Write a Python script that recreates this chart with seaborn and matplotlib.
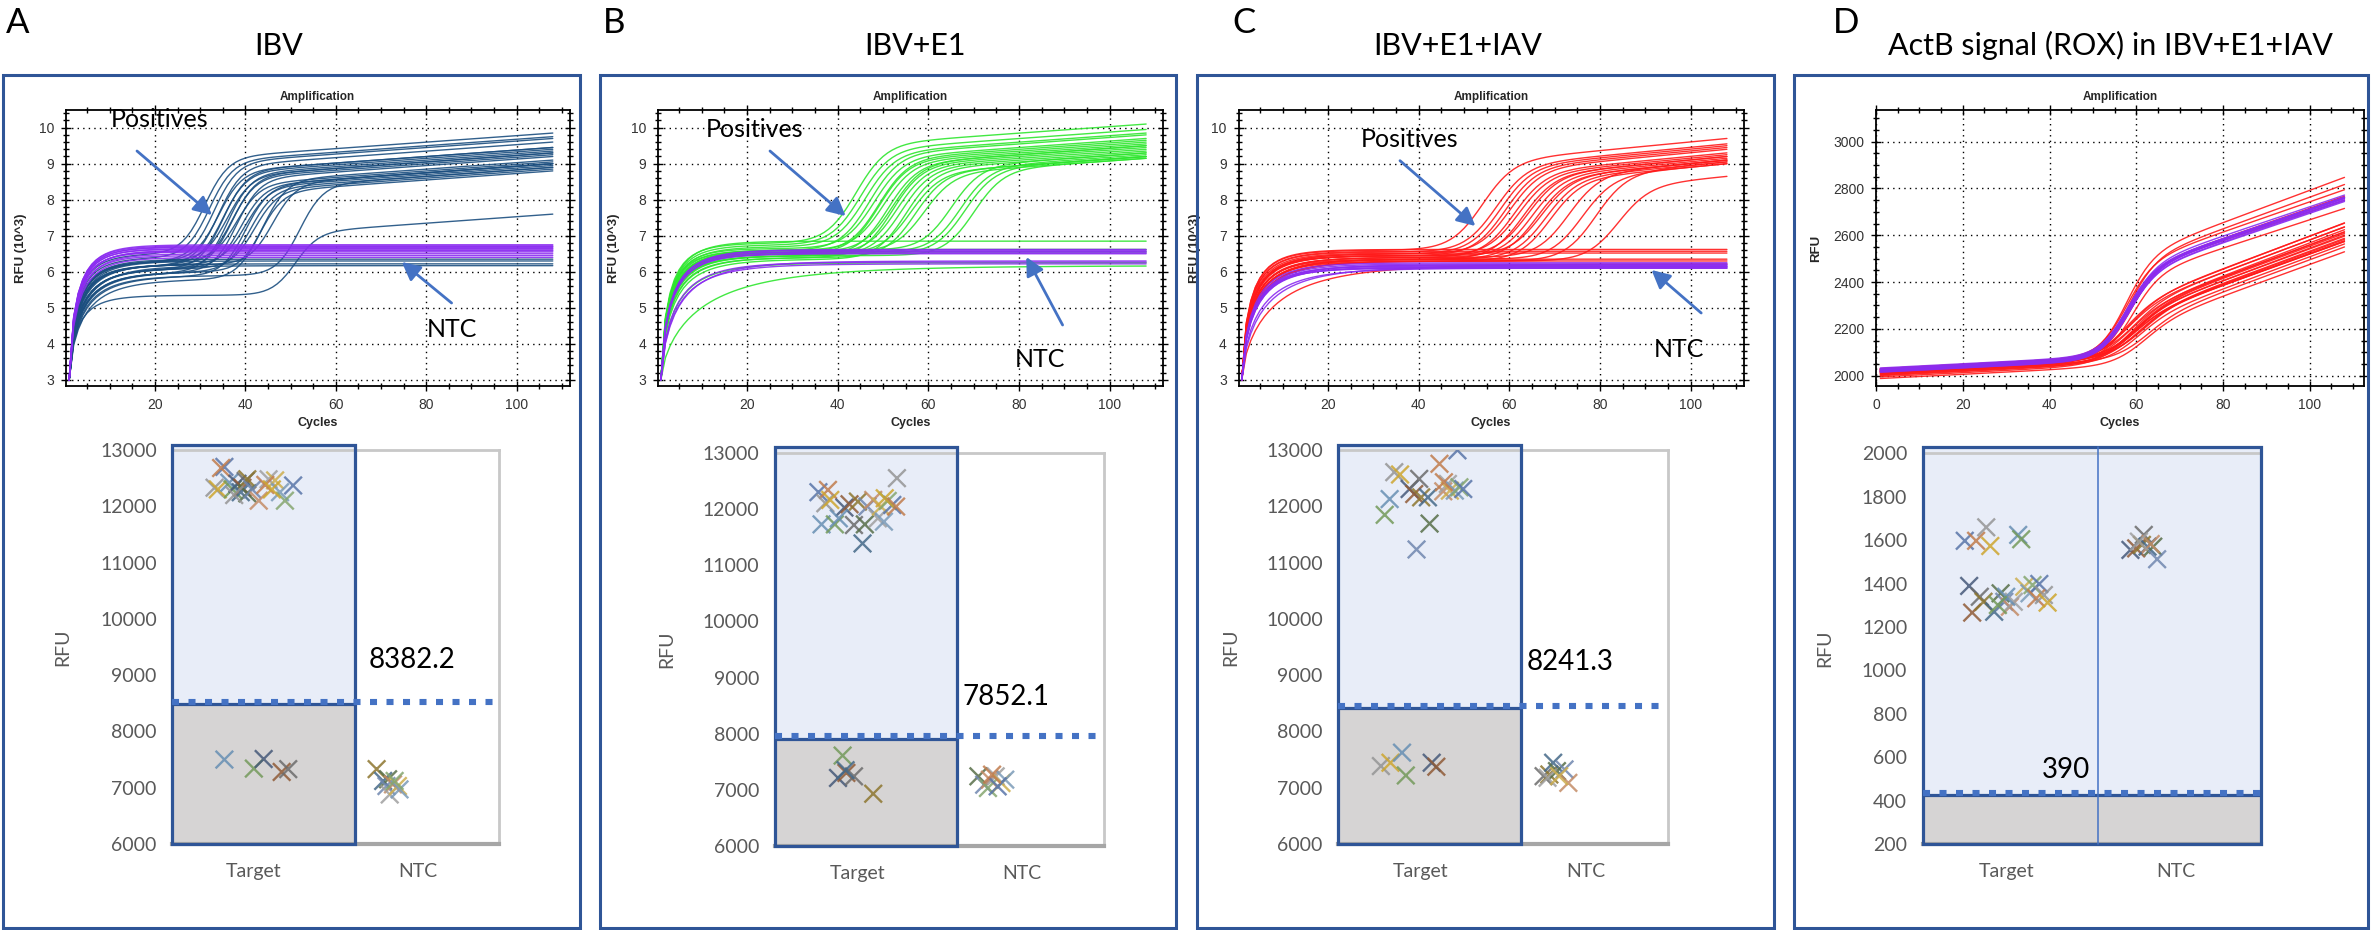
import numpy as np
import pandas as pd
import matplotlib
matplotlib.use("Agg")
import matplotlib.pyplot as plt
import seaborn as sns
from matplotlib.patches import Rectangle, FancyArrowPatch
from matplotlib.ticker import MultipleLocator
from matplotlib.colors import to_rgb

sns.set_theme(style="white")
plt.rcParams["font.family"] = ["Lato", "DejaVu Sans"]

W, H = 2371, 930
CYC = np.arange(1, 109)

# ------------------------------------------------------------------ data
# Amplification curves (RFU x10^3): per curve plateau before rise, rise midpoint (cycle),
# final RFU at cycle 108, early-rise time constant
A_pos_base = [6.5, 6.4, 6.3, 6.2, 6.3, 6.1, 6.2, 6.0, 6.3, 6.1, 6.2, 6.0, 6.3, 6.1, 5.9, 6.2, 6.0, 6.1, 5.8, 6.0, 6.2, 5.9, 5.35]
A_pos_mid = [31, 32, 33, 34, 34, 35, 35, 36, 36, 37, 37, 38, 38, 39, 40, 40, 41, 42, 43, 44, 46, 52, 51]
A_pos_end = [9.85, 9.75, 9.7, 9.6, 9.45, 9.45, 9.4, 9.35, 9.3, 9.3, 9.25, 9.2, 9.05, 9.0, 9.0, 8.95, 8.9, 8.85, 8.8, 9.1, 9.0, 8.9, 7.6]
A_pos_tau = [1.9, 2.0, 2.2, 2.4, 2.1, 2.6, 2.3, 2.9, 2.0, 2.7, 2.4, 3.0, 2.2, 2.6, 3.2, 2.3, 2.8, 2.6, 3.4, 2.8, 2.2, 3.0, 2.1]
A_neg_base = [6.17, 6.22, 6.3, 6.35]
A_neg_tau = [3.0, 2.6, 2.4, 2.2]
A_ntc_base = [6.4, 6.45, 6.5, 6.55, 6.58, 6.6, 6.63, 6.65, 6.68, 6.7, 6.72, 6.75]
A_ntc_tau = [2.2, 2.0, 2.1, 1.9, 2.0, 2.1, 1.9, 2.0, 1.9, 2.0, 1.9, 1.95]

B_pos_base = [6.8, 6.75, 6.7, 6.6, 6.65, 6.55, 6.5, 6.6, 6.45, 6.55, 6.4, 6.5, 6.45, 6.35, 6.5, 6.4, 6.55, 6.6, 6.55, 6.5, 6.45]
B_pos_mid = [44, 45, 46, 47, 48, 49, 49, 50, 51, 52, 52, 53, 54, 55, 56, 57, 59, 65, 67, 68, 70]
B_pos_end = [10.1, 9.95, 9.85, 9.8, 9.7, 9.65, 9.6, 9.55, 9.5, 9.5, 9.45, 9.4, 9.35, 9.3, 9.2, 9.2, 9.15, 9.3, 9.25, 9.2, 9.15]
B_pos_tau = [2.0, 2.1, 2.2, 2.4, 2.0, 2.5, 2.3, 2.1, 2.6, 2.2, 2.8, 2.3, 2.5, 3.0, 2.2, 2.7, 2.1, 2.0, 2.3, 2.1, 2.4]
B_neg_base = [6.85, 6.62, 6.55, 6.25, 6.17]
B_neg_tau = [2.2, 2.4, 2.6, 3.5, 9.0]
B_ntc_base = [6.5, 6.52, 6.55, 6.57, 6.6, 6.62, 6.22, 6.27, 6.3]
B_ntc_tau = [2.5, 2.6, 2.4, 2.7, 2.5, 2.6, 3.8, 3.5, 4.2]

C_pos_base = [6.6, 6.55, 6.5, 6.45, 6.5, 6.4, 6.45, 6.35, 6.45, 6.4, 6.35, 6.45, 6.35, 6.3, 6.4, 6.35, 6.3, 6.3]
C_pos_mid = [54, 57, 58, 59, 60, 61, 62, 63, 64, 65, 66, 67, 68, 69, 73, 76, 79, 84]
C_pos_end = [9.7, 9.55, 9.5, 9.45, 9.4, 9.3, 9.25, 9.2, 9.2, 9.15, 9.1, 9.1, 9.05, 9.0, 9.1, 9.0, 9.05, 8.65]
C_pos_tau = [2.2, 2.3, 2.5, 2.4, 2.6, 2.8, 2.5, 3.0, 2.6, 2.7, 3.1, 2.5, 2.9, 3.2, 2.8, 3.0, 3.3, 3.4]
C_neg_base = [6.62, 6.57, 6.52, 6.35, 6.3, 6.22]
C_neg_tau = [2.2, 2.3, 2.4, 2.6, 2.8, 7.0]
C_ntc_base = [6.1, 6.12, 6.14, 6.16, 6.18, 6.2, 6.22, 6.25, 6.15, 6.1]
C_ntc_tau = [2.8, 3.0, 3.2, 2.9, 3.1, 3.4, 3.0, 2.8, 5.0, 4.2]

# ActB (ROX) curves, RFU: start value, rise midpoint, rise height, late slope
D_up_start = [2025, 2020, 2030, 2015, 2022, 2028, 2018]
D_up_mid = [57.5, 58, 57.5, 58, 58.5, 58, 59]
D_up_amp = [420, 405, 385, 375, 370, 360, 345]
D_up_slope = [5.95, 5.8, 5.5, 5.5, 5.4, 5.2, 5.1]
D_lo_start = [2010, 2025, 2000, 2018, 2030, 2012, 2022, 2005, 2028, 2015, 1995, 2020, 2008, 2026, 2003, 2017, 1988, 2012]
D_lo_mid = [57, 58, 58.5, 57.5, 59, 58, 59.5, 58.5, 60, 59, 58, 60.5, 59.5, 61, 60, 59, 61.5, 62]
D_lo_amp = [230, 225, 220, 215, 210, 205, 200, 200, 195, 190, 190, 185, 185, 180, 175, 175, 170, 165]
D_lo_slope = [6.1, 6.0, 6.1, 5.95, 6.0, 5.9, 6.0, 5.85, 5.9, 6.0, 5.8, 5.9, 5.75, 5.85, 5.9, 5.7, 5.8, 5.9]
D_ntc_start = [2015, 2020, 2025, 2030, 2018, 2022, 2027, 2033, 2016, 2024]
D_ntc_mid = [58, 58, 58.5, 58, 57.5, 58, 58.5, 58, 58, 57.5]
D_ntc_amp = [360, 365, 368, 362, 370, 364, 366, 372, 361, 367]
D_ntc_slope = [5.35, 5.3, 5.4, 5.35, 5.3, 5.4, 5.35, 5.3, 5.4, 5.35]

# End-point RFU per well (offset within its category column, RFU)
A_tgt_x = [-0.18, -0.20, -0.24, -0.22, -0.15, -0.13, -0.10, -0.07, -0.05, -0.04, -0.08, -0.04, -0.01, 0.03, 0.09, 0.13, 0.16, 0.19, 0.24, 0.07, -0.12, 0.11,
           -0.18, 0.0, 0.06, 0.17, 0.21]
A_tgt_y = [12700, 12680, 12330, 12300, 12420, 12300, 12400, 12330, 12450, 12480, 12250, 12230, 12300, 12100, 12480, 12460, 12250, 12100, 12370, 12380, 12200, 12300,
           7500, 7340, 7510, 7280, 7330]
A_ntc_x = [-0.25, -0.21, -0.18, -0.19, -0.15, -0.17, -0.12, -0.11, -0.14]
A_ntc_y = [7330, 7120, 7150, 7030, 7060, 6880, 7030, 6970, 7120]

B_tgt_x = [-0.235, -0.177, -0.193, -0.163, -0.216, -0.135, -0.077, -0.046, -0.019, 0.005, 0.033, 0.047, 0.063, 0.098, 0.126, 0.145, 0.163, 0.186, 0.214, 0.237, 0.242, 0.168, -0.111,
           -0.088, -0.116, -0.065, -0.019, 0.098, -0.07]
B_tgt_y = [12302, 12343, 12105, 12164, 11729, 11729, 12028, 12087, 11717, 12135, 11389, 11729, 12046, 12164, 11836, 12046, 11777, 12146, 12075, 12046, 12552, 12194, 11836,
           7611, 7212, 7302, 7241, 6931, 7350]
B_ntc_x = [-0.263, -0.228, -0.193, -0.158, -0.123, -0.10, -0.205, -0.146, -0.18]
B_ntc_y = [7241, 7092, 7182, 7241, 7122, 7182, 7033, 7062, 7271]

C_tgt_x = [0.224, 0.115, -0.159, -0.124, -0.187, -0.217, -0.066, -0.038, -0.008, 0.004, 0.045, 0.055, -0.024, 0.138, 0.166, 0.178, 0.208, 0.236, 0.259, 0.142,
           -0.24, -0.182, -0.112, -0.089, 0.068, 0.096]
C_tgt_y = [12994, 12755, 12606, 12565, 12128, 11849, 12307, 12218, 12487, 12159, 12159, 11693, 11233, 12266, 12397, 12278, 12278, 12338, 12307, 12427,
           7385, 7444, 7623, 7218, 7444, 7373]
C_ntc_x = [-0.254, -0.219, -0.196, -0.173, -0.127, -0.104, -0.23, -0.16]
C_ntc_y = [7205, 7235, 7444, 7295, 7325, 7086, 7176, 7205]

D_tgt_x = [-0.25, -0.183, -0.123, -0.099, 0.066, 0.084, -0.224, -0.206, -0.161, -0.139, -0.076, -0.038, -0.016, 0.017, 0.04, 0.102, 0.133, 0.151, 0.191, 0.173, 0.218, 0.24, -0.005, -0.054]
D_tgt_y = [1597, 1597, 1659, 1573, 1624, 1604, 1389, 1266, 1339, 1316, 1270, 1355, 1316, 1293, 1316, 1385, 1355, 1393, 1398, 1332, 1347, 1312, 1339, 1301]
D_ntc_x = [-0.27, -0.236, -0.191, -0.202, -0.169, -0.135, -0.112, -0.15, -0.22]
D_ntc_y = [1555, 1562, 1624, 1578, 1570, 1570, 1512, 1582, 1593]

categories = ["Target", "NTC"]
thr_label = ["8382.2", "7852.1", "8241.3", "390"]
thr_line = [8530, 7957, 8458, 436]
panel_letters = ["A", "B", "C", "D"]
panel_titles = ["IBV", "IBV+E1", "IBV+E1+IAV", "ActB signal (ROX) in IBV+E1+IAV"]

# ------------------------------------------------------------------ helpers
NAVY = "#2F5597"
ARROW = "#4472C4"
EXCEL_BASE = ["#4472C4", "#ED7D31", "#A5A5A5", "#FFC000", "#5B9BD5", "#70AD47", "#264478", "#9E480E",
              "#636363", "#997300", "#255E91", "#43682B", "#698ED0", "#F1975A", "#B7B7B7", "#FFCD33", "#7CAFDD", "#8CC168"]
# muted (blurred) versions of Excel's series colours, as seen in the picture
EXCEL = [tuple(0.62 * c + 0.38 * 0.48 for c in to_rgb(h)) for h in EXCEL_BASE]
ARIAL = "Liberation Sans"

fig = plt.figure(figsize=(W / 100, H / 100), dpi=100)
fig.patch.set_facecolor("white")


def box(x0, y0, x1, y1):
    return [x0 / W, 1 - y1 / H, (x1 - x0) / W, (y1 - y0) / H]


def P(x, y):
    return (x / W, 1 - y / H)


def sig(z):
    return 1 / (1 + np.exp(-z))


def softplus(z):
    return np.logaddexp(0, z)


def early(b, tau, start=3.0):
    return b - (b - start) * np.exp(-((CYC - 1) / tau) ** 0.7)


def qpcr(b, tau, mid, end, w, drift):
    knee = end - drift * (108 - mid)
    return early(b, tau) + (knee - b) * sig((CYC - mid) / w) + drift * w * softplus((CYC - mid) / w)


def actb(start, mid, amp, slope, w):
    return start + 0.95 * (CYC - 1) + amp * sig((CYC - mid) / w) + slope * w * softplus((CYC - mid) / w)


def long_df(curves):
    parts = []
    for i, (y, kind) in enumerate(curves):
        parts.append(pd.DataFrame({"cycle": CYC, "rfu": y, "curve": i, "kind": kind}))
    return pd.concat(parts, ignore_index=True)


def curves_abc(pb, pm, pe, pt, nb, nt, cb, ct, w, drift):
    cs = []
    for b, m, e, t in zip(pb, pm, pe, pt):
        cs.append((qpcr(b, t, m, e, w, drift), "pos"))
    for b, t in zip(nb, nt):
        cs.append((early(b, t), "pos"))
    for b, t in zip(cb, ct):
        cs.append((early(b, t), "ntc"))
    return long_df(cs)


def amp_panel(pos_px, df, colors, ylim, yticks, yminor, xlim, xticks, ylabel, ylab_x):
    ax = fig.add_axes(box(*pos_px))
    kinds = [k for k in ["pos", "ntc"] if k in set(df["kind"])]
    sns.lineplot(data=df, x="cycle", y="rfu", units="curve", estimator=None, hue="kind",
                 hue_order=kinds, palette=colors, linewidth=1.0, alpha=0.9, legend=False,
                 sort=False, ax=ax)
    ax.set_xlim(xlim)
    ax.set_ylim(ylim)
    ax.set_xticks(xticks)
    ax.set_yticks(yticks)
    ax.xaxis.set_minor_locator(MultipleLocator(5))
    ax.yaxis.set_minor_locator(MultipleLocator(yminor))
    ax.grid(True, which="major", color="black", linestyle=(0, (1, 3)), linewidth=1.0)
    for s in ax.spines.values():
        s.set_visible(True)
        s.set_color("black")
        s.set_linewidth(1.3)
    ax.tick_params(which="both", direction="inout", top=True, right=True, bottom=True, left=True,
                   color="black", width=1.0, labelsize=10, labelcolor="#333333", pad=5,
                   labelfontfamily=ARIAL)
    ax.tick_params(which="major", length=7)
    ax.tick_params(which="minor", length=4)
    ax.set_title("Amplification", fontsize=8.5, fontweight="bold", family=ARIAL, pad=7)
    ax.set_xlabel("Cycles", fontsize=9, fontweight="bold", family=ARIAL)
    ax.set_ylabel(ylabel, fontsize=9.5, fontweight="bold", family=ARIAL)
    ax.xaxis.set_label_coords(0.5, -0.134)
    ax.xaxis.label.set_va("center")
    ax.yaxis.set_label_coords(ylab_x, 0.5)
    ax.yaxis.label.set_va("center")
    return ax


def rfu_panel(pos_px, ylim, ystep, tx, ty, nx, ny, thr, over, box_right, lab_x, divider=None):
    ax = fig.add_axes(box(*pos_px))
    ax.set_facecolor("white")
    y0, y1 = ylim
    ytop = y1 + over
    px_unit = (y1 - y0) / (pos_px[3] - pos_px[1])   # data units per pixel
    edge = thr - 2.5 * px_unit                       # navy box edge sits just under the dotted line
    ax.add_patch(Rectangle((-0.5, edge), box_right + 0.5, ytop - edge, fc="#E8EDF8", ec="none", zorder=1, clip_on=False))
    ax.add_patch(Rectangle((-0.5, y0), box_right + 0.5, edge - y0, fc="#D6D4D4", ec="none", zorder=1))
    ax.add_patch(Rectangle((-0.5, y0), box_right + 0.5, ytop - y0, fill=False, ec=NAVY, lw=2.3, zorder=4, clip_on=False))
    ax.plot([-0.5, box_right], [edge, edge], color=NAVY, lw=2.3, zorder=4, solid_capstyle="butt")
    if divider is not None:
        ax.plot([divider, divider], [y0, ytop], color="#4472C4", lw=1.1, zorder=4, clip_on=False)
    ax.axhline(thr, color="#4472C4", lw=4.4, linestyle=(0, (1.15, 1.55)), dash_capstyle="butt", zorder=5)
    xs = [0 + v for v in tx] + [1 + v for v in nx]
    ys = list(ty) + list(ny)
    pts = pd.DataFrame({"x": xs, "rfu": ys, "well": [f"w{i}" for i in range(len(xs))]})
    sns.scatterplot(data=pts, x="x", y="rfu", hue="well",
                    palette=[EXCEL[i % len(EXCEL)] for i in range(len(xs))],
                    marker="x", s=160, linewidth=1.7, alpha=0.85, legend=False, ax=ax, zorder=6)
    ax.set_xlim(-0.5, 1.5)
    ax.set_ylim(ylim)
    ax.set_xticks([0, 1])
    ax.set_xticklabels(categories)
    ax.yaxis.set_major_locator(MultipleLocator(ystep))
    ax.tick_params(length=0, labelsize=14, labelcolor="#595959")
    ax.tick_params(axis="y", pad=11)
    ax.tick_params(axis="x", pad=14)
    ax.grid(False)
    ax.spines["left"].set_visible(False)
    for s in ["top", "right"]:
        ax.spines[s].set_visible(True)
        ax.spines[s].set_color("#C8C8C8")
        ax.spines[s].set_linewidth(2)
    ax.spines["bottom"].set_visible(True)
    ax.spines["bottom"].set_color("#A6A6A6")
    ax.spines["bottom"].set_linewidth(3)
    ax.set_xlabel("")
    ax.set_ylabel("RFU", fontsize=14, color="#595959")
    ax.yaxis.set_label_coords(lab_x, 0.5)
    ax.yaxis.label.set_va("center")
    return ax


# ------------------------------------------------------------------ top: amplification
dfA = curves_abc(A_pos_base, A_pos_mid, A_pos_end, A_pos_tau, A_neg_base, A_neg_tau, A_ntc_base, A_ntc_tau, 2.6, 0.009)
dfB = curves_abc(B_pos_base, B_pos_mid, B_pos_end, B_pos_tau, B_neg_base, B_neg_tau, B_ntc_base, B_ntc_tau, 3.3, 0.009)
dfC = curves_abc(C_pos_base, C_pos_mid, C_pos_end, C_pos_tau, C_neg_base, C_neg_tau, C_ntc_base, C_ntc_tau, 3.5, 0.012)
dcs = []
for s, m, a, sl in zip(D_up_start, D_up_mid, D_up_amp, D_up_slope):
    dcs.append((actb(s, m, a, sl, 3.2), "pos"))
for s, m, a, sl in zip(D_lo_start, D_lo_mid, D_lo_amp, D_lo_slope):
    dcs.append((actb(s, m, a, sl, 3.8), "pos"))
for s, m, a, sl in zip(D_ntc_start, D_ntc_mid, D_ntc_amp, D_ntc_slope):
    dcs.append((actb(s, m, a, sl, 3.3), "ntc"))
dfD = long_df(dcs)

PURPLE = "#8B2CF0"
abc_ticks = [3, 4, 5, 6, 7, 8, 9, 10]
amp_panel((66, 110, 569.5, 386), dfA, {"pos": "#1C4F80", "ntc": PURPLE}, (2.83, 10.49), abc_ticks, 0.2,
          (0.3, 111.7), [20, 40, 60, 80, 100], "RFU (10^3)", -0.089)
amp_panel((657.7, 110, 1162.9, 386), dfB, {"pos": "#2EE62E", "ntc": PURPLE}, (2.83, 10.49), abc_ticks, 0.2,
          (0.3, 111.7), [20, 40, 60, 80, 100], "RFU (10^3)", -0.087)
amp_panel((1238.6, 110, 1743.7, 386), dfC, {"pos": "#FF1A1A", "ntc": PURPLE}, (2.83, 10.49), abc_ticks, 0.2,
          (0.3, 111.7), [20, 40, 60, 80, 100], "RFU (10^3)", -0.087)
amp_panel((1876, 110, 2364, 386), dfD, {"pos": "#FF1A1A", "ntc": PURPLE}, (1956, 3135),
          [2000, 2200, 2400, 2600, 2800, 3000], 50, (0, 112.5), [0, 20, 40, 60, 80, 100], "RFU", -0.123)

# ------------------------------------------------------------------ bottom: end-point RFU
rfu_panel((172, 450, 499.4, 844), (6000, 13000), 1000, A_tgt_x, A_tgt_y, A_ntc_x, A_ntc_y, thr_line[0], 90, 0.617, -0.333)
rfu_panel((774.8, 453, 1104, 846), (6000, 13000), 1000, B_tgt_x, B_tgt_y, B_ntc_x, B_ntc_y, thr_line[1], 100, 0.609, -0.329)
rfu_panel((1338, 450, 1668, 844), (6000, 13000), 1000, C_tgt_x, C_tgt_y, C_ntc_x, C_ntc_y, thr_line[2], 90, 0.607, -0.325)
rfu_panel((1922.5, 453.3, 2260.6, 844), (200, 2000), 200, D_tgt_x, D_tgt_y, D_ntc_x, D_ntc_y, thr_line[3], 30, 1.5, -0.288,
          divider=0.537)

# ------------------------------------------------------------------ texts, arrows, frames
for (lx, ly), s in zip([(6, 33), (603, 33), (1232, 33), (1833, 33)], panel_letters):
    fig.text(*P(lx, ly), s, fontsize=25, ha="left", va="baseline", color="black")
for (tx_, ty_), s in zip([(279, 55), (915, 55), (1457.5, 55), (2110.8, 55)], panel_titles):
    fig.text(*P(tx_, ty_), s, fontsize=22, ha="center", va="baseline", color="black")

for (x, y) in [(160, 126.7), (755, 137.3), (1410, 147.3)]:
    fig.text(*P(x, y), "Positives", fontsize=18, ha="center", va="baseline", color="black", zorder=20)
for (x, y) in [(452, 336.7), (1040, 366.7), (1679, 357.3)]:
    fig.text(*P(x, y), "NTC", fontsize=18, ha="center", va="baseline", color="black", zorder=20)

arrows = [((137, 151), (212, 215)), ((451.6, 303), (401.8, 262)),
          ((770, 151), (845.6, 216)), ((1062.6, 325), (1026.3, 257)),
          ((1400, 160.7), (1475.4, 226)), ((1701.2, 313), (1651.5, 270))]
for tail, head in arrows:
    fig.add_artist(FancyArrowPatch(
        P(*tail), P(*head), transform=fig.transFigure,
        arrowstyle="-|>,head_length=0.55,head_width=0.28", mutation_scale=20,
        color=ARROW, lw=2.0, shrinkA=0, shrinkB=0, zorder=20))

for (x, y), s in zip([(368.5, 668.3), (963, 705), (1526.3, 670), (2042, 777.7)], thr_label):
    fig.text(*P(x, y), s, fontsize=20, ha="left", va="baseline", color="black", zorder=20)

for x0, x1 in [(3, 580), (599.6, 1176), (1197, 1774), (1794.3, 2368)]:
    fig.add_artist(Rectangle(P(x0, 928), (x1 - x0) / W, (928 - 75) / H, transform=fig.transFigure,
                             fill=False, ec=NAVY, lw=2.2, zorder=30))

fig.savefig("out.png", dpi=100, facecolor="white")
